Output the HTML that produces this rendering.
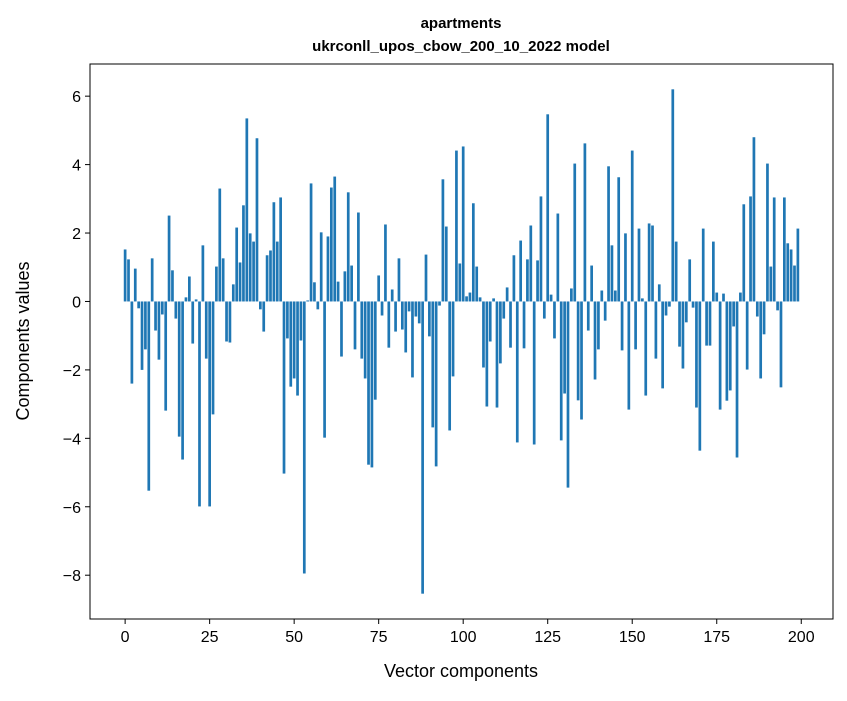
<!DOCTYPE html>
<html><head><meta charset="utf-8"><style>
body{margin:0;background:#fff;}
svg text{font-family:"Liberation Sans","DejaVu Sans",sans-serif;fill:#000;}
</style></head><body>
<svg id="chart" width="847" height="696" xmlns="http://www.w3.org/2000/svg">
<rect x="0" y="0" width="847" height="696" fill="#fff"/>
<text x="461" y="28" text-anchor="middle" font-size="15" font-weight="bold">apartments</text>
<text x="461" y="51" text-anchor="middle" font-size="15" font-weight="bold">ukrconll_upos_cbow_200_10_2022 model</text>
<g id="bars"></g>
<g id="axes"></g>
<text x="461" y="677" text-anchor="middle" font-size="18">Vector components</text>
<text transform="translate(29,341) rotate(-90)" text-anchor="middle" font-size="18">Components values</text>
</svg>
<script>
const values = [1.52,1.23,-2.4,0.96,-0.2,-2.0,-1.4,-5.53,1.26,-0.85,-1.7,-0.38,-3.19,2.51,0.91,-0.5,-3.95,-4.62,0.12,0.73,-1.23,0.06,-5.99,1.64,-1.67,-5.99,-3.3,1.02,3.3,1.26,-1.17,-1.2,0.5,2.16,1.14,2.81,5.35,1.99,1.75,4.77,-0.23,-0.88,1.35,1.49,2.9,1.75,3.04,-5.03,-1.08,-2.49,
-2.25,-2.75,-1.14,-7.95,0.03,3.45,0.56,-0.23,2.02,-3.98,1.9,3.33,3.65,0.58,-1.61,0.88,3.19,1.05,-1.4,2.6,-1.67,-2.25,-4.77,-4.85,-2.87,0.76,-0.41,2.25,-1.35,0.35,-0.88,1.26,-0.82,-1.49,-0.29,-2.22,-0.44,-0.64,-8.54,1.37,-1.02,-3.68,-4.82,-0.12,3.57,2.19,-3.77,-2.19,
4.41,1.11,4.53,0.15,0.26,2.87,1.02,0.12,-1.93,-3.07,-1.17,0.09,-3.1,-1.81,-0.5,0.41,-1.35,1.35,-4.12,1.78,-1.37,1.23,2.22,-4.18,1.2,3.07,-0.5,5.47,0.2,-1.08,2.57,-4.06,-2.69,-5.44,0.38,4.03,-2.89,-3.45,4.62,-0.85,1.05,-2.28,-1.4,0.32,-0.56,3.95,1.64,0.32,3.63,-1.43,
1.99,-3.16,4.41,-1.4,2.13,0.09,-2.75,2.28,2.22,-1.67,0.5,-2.54,-0.41,-0.15,6.2,1.75,-1.32,-1.96,-0.61,1.23,-0.18,-3.1,-4.36,2.13,-1.29,-1.29,1.75,0.26,-3.16,0.23,-2.9,-2.6,-0.73,-4.56,0.26,2.84,-1.99,3.07,4.8,-0.44,-2.25,-0.96,4.03,1.02,3.04,-0.26,-2.51,3.04,1.7,1.52,1.05,2.13];
const xTicks = [0,25,50,75,100,125,150,175,200];
const yTicks = [-8,-6,-4,-2,0,2,4,6];
const yTickLabels = ["\u22128","\u22126","\u22124","\u22122","0","2","4","6"];

const L=90,R=833,T=64,B=619;
const xMin=-10.39,xMax=209.39,yMin=-9.28,yMax=6.94;
function xs(v){return L+(v-xMin)/(xMax-xMin)*(R-L);}
function ys(v){return T+(yMax-v)/(yMax-yMin)*(B-T);}
const NS="http://www.w3.org/2000/svg";
const gb=document.getElementById('bars');
values.forEach((v,i)=>{
  const r=document.createElementNS(NS,'rect');
  const x0=xs(i-0.4),x1=xs(i+0.4);
  const y0=ys(Math.max(v,0)),y1=ys(Math.min(v,0));
  r.setAttribute('x',x0);r.setAttribute('width',x1-x0);
  r.setAttribute('y',y0);r.setAttribute('height',Math.max(y1-y0,0.3));
  r.setAttribute('fill','#1f77b4');
  
  
  gb.appendChild(r);
});
const ga=document.getElementById('axes');
const frame=document.createElementNS(NS,'rect');
frame.setAttribute('x',L);frame.setAttribute('y',T);frame.setAttribute('width',R-L);frame.setAttribute('height',B-T);
frame.setAttribute('fill','none');frame.setAttribute('stroke','#000');frame.setAttribute('stroke-width','1');


ga.appendChild(frame);
xTicks.forEach(t=>{
  const x=xs(t);
  const l=document.createElementNS(NS,'line');
  l.setAttribute('x1',x);l.setAttribute('x2',x);l.setAttribute('y1',B);l.setAttribute('y2',B+5);l.setAttribute('stroke','#000');
  
  
  ga.appendChild(l);
  const tx=document.createElementNS(NS,'text');
  tx.setAttribute('x',x);tx.setAttribute('y',B+23);tx.setAttribute('text-anchor','middle');tx.setAttribute('font-size','16');
  tx.textContent=t;
  
  
  ga.appendChild(tx);
});
yTicks.forEach((t,i)=>{
  const y=ys(t);
  const l=document.createElementNS(NS,'line');
  l.setAttribute('x1',L-5);l.setAttribute('x2',L);l.setAttribute('y1',y);l.setAttribute('y2',y);l.setAttribute('stroke','#000');
  
  
  ga.appendChild(l);
  const tx=document.createElementNS(NS,'text');
  tx.setAttribute('x',L-9);tx.setAttribute('y',y+6);tx.setAttribute('text-anchor','end');tx.setAttribute('font-size','16');
  tx.textContent=yTickLabels[i];
  
  
  ga.appendChild(tx);
});
</script>
</body></html>
